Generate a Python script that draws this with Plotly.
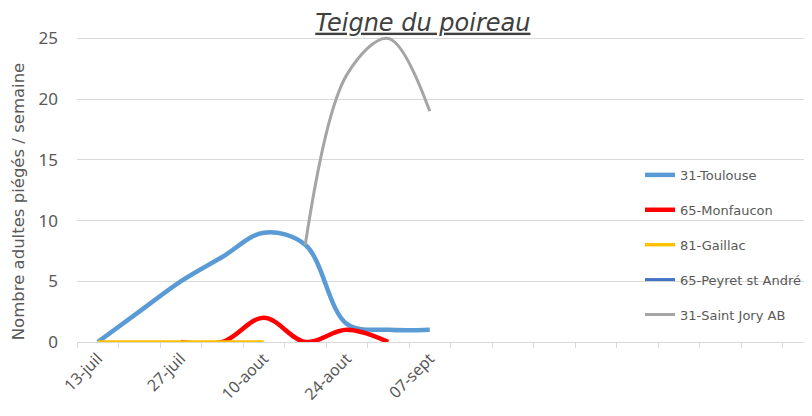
import plotly.graph_objects as go

weeks = ["13-juil", "20-juil", "27-juil", "03-aout", "10-aout", "17-aout", "24-aout",
         "31-aout", "07-sept", "14-sept", "21-sept", "28-sept", "05-oct", "12-oct",
         "19-oct", "26-oct", "02-nov", "09-nov"]
tick_labels = ["13-juil", "", "27-juil", "", "10-aout", "", "24-aout", "", "07-sept",
               "", "", "", "", "", "", "", "", ""]

toulouse = [0, 2.5, 5, 7, 9, 8, 1.5, 1, 1]
monfaucon = [None, None, 0, 0, 2, 0, 1, 0]
gaillac = [0, 0, 0, 0, 0]
peyret = [None, None, None, None, None]
saint_jory = [None, None, None, None, None, 8, 22, 25, 19]

series = [
    ("31-Toulouse", toulouse, "#5B9BD5", 4.5),
    ("65-Monfaucon", monfaucon, "#FF0000", 4.5),
    ("81-Gaillac", gaillac, "#FFC000", 3.5),
    ("65-Peyret st André", peyret, "#4472C4", 3),
    ("31-Saint Jory AB", saint_jory, "#A5A5A5", 3),
]

fig = go.Figure()
for i, (name, vals, color, w) in enumerate(series):
    fig.add_trace(go.Scatter(
        x=weeks[:len(vals)], y=vals, name=name, mode="lines",
        line=dict(color=color, width=w, shape="spline", smoothing=1.0),
        legendgroup=f"g{i}", connectgaps=False,
    ))

fig.add_annotation(
    text="Nombre adultes piégés / semaine", textangle=-90,
    xref="paper", yref="paper", x=-0.0803, y=0.46,
    xanchor="center", yanchor="middle", showarrow=False,
    font=dict(family="DejaVu Sans, sans-serif", size=16.5, color="#595959"),
)

fig.update_layout(
    width=804, height=408,
    margin=dict(l=69, r=0, t=27.6, b=74),
    paper_bgcolor="white", plot_bgcolor="white",
    font=dict(family="Noto Sans, Open Sans, sans-serif", color="#595959"),
    title=dict(text="<i><u>Teigne du poireau</u></i>", x=0.516, xanchor="center",
               y=0.965, yanchor="middle",
               font=dict(family="DejaVu Sans, sans-serif", size=24, color="#404040")),
    showlegend=True,
    legend=dict(x=0.766, xanchor="left", y=0.595, yanchor="top",
                bgcolor="rgba(0,0,0,0)",
                font=dict(family="DejaVu Sans, sans-serif", size=13, color="#595959"),
                tracegroupgap=15, traceorder="grouped"),
    xaxis=dict(
        type="category", categoryorder="array", categoryarray=weeks,
        range=[-0.5, 17.21], tickmode="array", tickvals=weeks, ticktext=tick_labels,
        tickangle=-45, tickson="boundaries", ticks="outside", ticklen=5,
        tickcolor="#d9d9d9", showline=True, linecolor="#d9d9d9", linewidth=1,
        showgrid=False, tickfont=dict(size=16, color="#595959"), zeroline=False,
        automargin=False,
    ),
    yaxis=dict(
        range=[0, 25.2], tickmode="array", tickvals=[0, 5, 10, 15, 20, 25],
        showgrid=True, gridcolor="#d9d9d9", gridwidth=1, zeroline=False,
        showline=False, tickfont=dict(size=17, color="#595959"),
        ticklabelstandoff=18, automargin=False,
    ),
)

fig.write_html("out.html")
